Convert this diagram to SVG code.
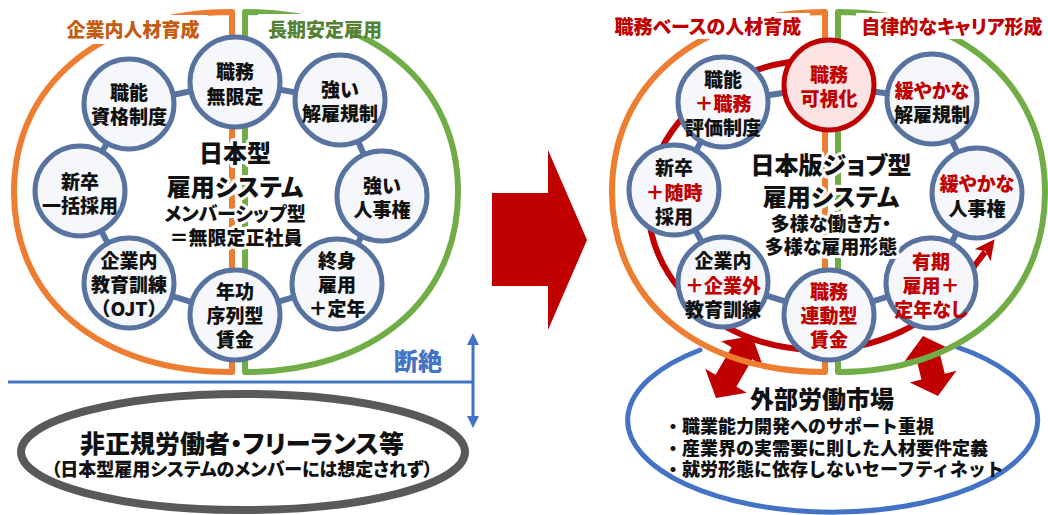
<svg xmlns="http://www.w3.org/2000/svg" width="1048" height="515" viewBox="0 0 1048 515">
<style>
text{font-family:"Noto Sans CJK JP","Noto Sans",sans-serif;font-weight:900;text-anchor:middle;dominant-baseline:central;fill:#111}
.n{font-size:19px}
.r{fill:#C00000}
.p{font-feature-settings:"palt"}
.ctr{font-size:24px;stroke:#fff;stroke-width:6px;paint-order:stroke;stroke-linejoin:round}
.sub{font-size:19px;stroke:#fff;stroke-width:6px;paint-order:stroke;stroke-linejoin:round}
.node circle{fill:#F5F7FA;stroke:#5873A0;stroke-width:5}
.node.red circle{fill:#FBE3E3;stroke:#C00000}
.ring{fill:none;stroke:#5873A0;stroke-width:6}
.or{fill:none;stroke:#ED7D31;stroke-width:6;stroke-linejoin:round}
.gr{fill:none;stroke:#70AD47;stroke-width:6;stroke-linejoin:round}
.ttl{font-size:19px}
.bul{font-size:18px;text-anchor:start}
</style>
<defs>
<marker id="ah" viewBox="0 0 20 20" refX="4" refY="10" markerWidth="20" markerHeight="20" markerUnits="userSpaceOnUse" orient="auto"><path d="M0,0 L20,10 L0,20 L5,10 Z" fill="#C00000"/></marker>
<marker id="bh" viewBox="0 0 12 12" refX="2" refY="6" markerWidth="12" markerHeight="12" markerUnits="userSpaceOnUse" orient="auto-start-reverse"><path d="M0,0 L12,6 L0,12 Z" fill="#4472C4"/></marker>
</defs>
<rect width="1048" height="515" fill="#fff"/>

<!-- big red arrow -->
<path id="bigArrow" d="M492,193 L548,193 L548,150 L587,240 L548,330 L548,286 L492,286 Z" fill="#C00000"/>

<g id="connectors">
<!-- left framing -->
<path class="or" d="M232,12 C101,12 14,84 14,192 C14,300 101,372 232,372 Z"/>
<path class="gr" d="M245,12 C373,12 458,84 458,192 C458,300 373,372 245,372 Z"/>
<!-- right framing: outer blue arc and double arrows -->
<path d="M957,347 A205,92 0 1 1 700,350" fill="none" stroke="#4472C4" stroke-width="5" stroke-linecap="round"/>
<polygon points="752,336 762.7,365.3 752.3,359.3 736.4,386.7 746.8,392.7 716,398 705.2,368.7 715.6,374.7 731.6,347.3 721.2,341.3" fill="#C00000"/>
<polygon points="923,336 951.2,349.6 939.5,352.5 944.8,373.7 956.4,370.8 938,396 909.8,382.4 921.4,379.5 916.3,358.3 904.6,361.2" fill="#C00000"/>
<path class="or" d="M825,12 C697,12 612,84 612,192 C612,300 697,372 825,372 Z"/>
<path class="gr" d="M838,12 C962,12 1045,84 1045,192 C1045,300 962,372 838,372 Z"/>
<!-- rings -->
<polygon class="ring" points="235,82 340,100 382,196 337,284 235,315 129,283 80,191 129,104"/>
<polygon class="ring" points="829,86 932,99 977,193 931,283 829,315 723,282 674,190 723,102"/>
<path d="M818,60 A170,145 0 1 0 960,285 L985,252" fill="none" stroke="#C00000" stroke-width="6" marker-end="url(#ah)"/>
<!-- 断絶 -->
<line x1="8" y1="382" x2="473" y2="382" stroke="#4472C4" stroke-width="3"/>
<line x1="473" y1="343" x2="473" y2="418" stroke="#4472C4" stroke-width="3" marker-start="url(#bh)" marker-end="url(#bh)"/>
</g>

<!-- titles -->
<rect x="58" y="15" width="150" height="29" fill="#fff"/>
<text class="ttl" x="133" y="28" style="fill:#C55A11">企業内人材育成</text>
<rect x="258" y="14" width="134" height="22" fill="#fff"/>
<text class="ttl" x="325" y="28" style="fill:#548235">長期安定雇用</text>
<rect x="606" y="13" width="204" height="26" fill="#fff"/>
<text class="ttl r p" x="708" y="25">職務ベースの人材育成</text>
<rect x="856" y="13" width="190" height="26" fill="#fff"/>
<text class="ttl r p" x="952" y="25">自律的なキャリア形成</text>

<!-- left nodes -->
<g id="n-shokumu" class="node"><circle cx="235" cy="82" r="45"/><text class="n" x="235" y="70">職務</text><text class="n" x="235" y="95">無限定</text></g>
<g id="n-shokuno" class="node"><circle cx="129" cy="104" r="45"/><text class="n" x="129" y="91">職能</text><text class="n" x="129" y="115">資格制度</text></g>
<g id="n-kaiko" class="node"><circle cx="340" cy="100" r="45"/><text class="n" x="340" y="88">強い</text><text class="n" x="340" y="112">解雇規制</text></g>
<g id="n-shinsotsu" class="node"><circle cx="80" cy="191" r="45"/><text class="n" x="80" y="180">新卒</text><text class="n" x="80" y="204">一括採用</text></g>
<g id="n-jinji" class="node"><circle cx="382" cy="196" r="45"/><text class="n" x="382" y="184">強い</text><text class="n" x="382" y="208">人事権</text></g>
<g id="n-ojt" class="node"><circle cx="129" cy="283" r="45"/><text class="n" x="129" y="259">企業内</text><text class="n" x="129" y="283">教育訓練</text><text class="n" x="129" y="307">（OJT）</text></g>
<g id="n-nenko" class="node"><circle cx="235" cy="315" r="45"/><text class="n" x="235" y="290">年功</text><text class="n" x="235" y="314">序列型</text><text class="n" x="235" y="338">賃金</text></g>
<g id="n-shushin" class="node"><circle cx="337" cy="284" r="45"/><text class="n" x="337" y="259">終身</text><text class="n" x="337" y="283">雇用</text><text class="n" x="337" y="307">＋定年</text></g>

<g id="left-center">
<text class="ctr" x="235" y="151">日本型</text>
<text class="ctr p" x="235" y="185">雇用システム</text>
<text class="sub p" x="235" y="212">メンバーシップ型</text>
<text class="sub" x="236" y="236">＝無限定正社員</text>
</g>

<text x="418" y="359" style="font-size:24px;fill:#4472C4">断絶</text>

<g id="n-hiseiki">
<ellipse cx="243" cy="452" rx="222" ry="58" fill="#fff" stroke="#595959" stroke-width="8"/>
<text class="p" x="242" y="442" style="font-size:25px">非正規労働者・フリーランス等</text>
<text class="p" x="242" y="468" style="font-size:18px">（日本型雇用システムのメンバーには想定されず）</text>
</g>

<!-- right nodes -->
<g id="n-kashika" class="node red"><circle cx="829" cy="85" r="45"/><text class="n r" x="829" y="73">職務</text><text class="n r" x="829" y="97">可視化</text></g>
<g id="n-hyoka" class="node"><circle cx="723" cy="102" r="45"/><text class="n" x="723" y="78">職能</text><text class="n r" x="723" y="102">＋職務</text><text class="n" x="723" y="126">評価制度</text></g>
<g id="n-yuruyaka1" class="node"><circle cx="932" cy="99" r="45"/><text class="n r p" x="932" y="89">緩やかな</text><text class="n" x="932" y="113">解雇規制</text></g>
<g id="n-zuiji" class="node"><circle cx="674" cy="190" r="45"/><text class="n" x="674" y="166">新卒</text><text class="n r" x="674" y="191">＋随時</text><text class="n" x="674" y="215">採用</text></g>
<g id="n-yuruyaka2" class="node"><circle cx="977" cy="193" r="45"/><text class="n r p" x="977" y="182">緩やかな</text><text class="n" x="977" y="207">人事権</text></g>
<g id="n-kigyogai" class="node"><circle cx="723" cy="282" r="45"/><text class="n" x="723" y="259">企業内</text><text class="n r" x="723" y="284">＋企業外</text><text class="n" x="723" y="308">教育訓練</text></g>
<g id="n-rendo" class="node"><circle cx="829" cy="315" r="45"/><text class="n r" x="829" y="290">職務</text><text class="n r" x="829" y="314">連動型</text><text class="n r" x="829" y="338">賃金</text></g>
<g id="n-yuki" class="node"><circle cx="931" cy="283" r="45"/><text class="n r" x="931" y="260">有期</text><text class="n r" x="931" y="284">雇用＋</text><text class="n r p" x="931" y="308">定年なし</text></g>

<g id="right-center">
<text class="ctr p" x="831" y="163">日本版ジョブ型</text>
<text class="ctr p" x="831" y="195">雇用システム</text>
<text class="sub p" x="831" y="222">多様な働き方・</text>
<text class="sub p" x="831" y="245">多様な雇用形態</text>
</g>

<g id="n-gaibu">
<text x="822" y="397" style="font-size:24px">外部労働市場</text>
<text class="bul" x="664" y="425">・職業能力開発へのサポート重視</text>
<text class="bul" x="664" y="447">・産業界の実需要に則した人材要件定義</text>
<text class="bul" x="664" y="468">・就労形態に依存しないセーフティネット</text>
</g>
</svg>
